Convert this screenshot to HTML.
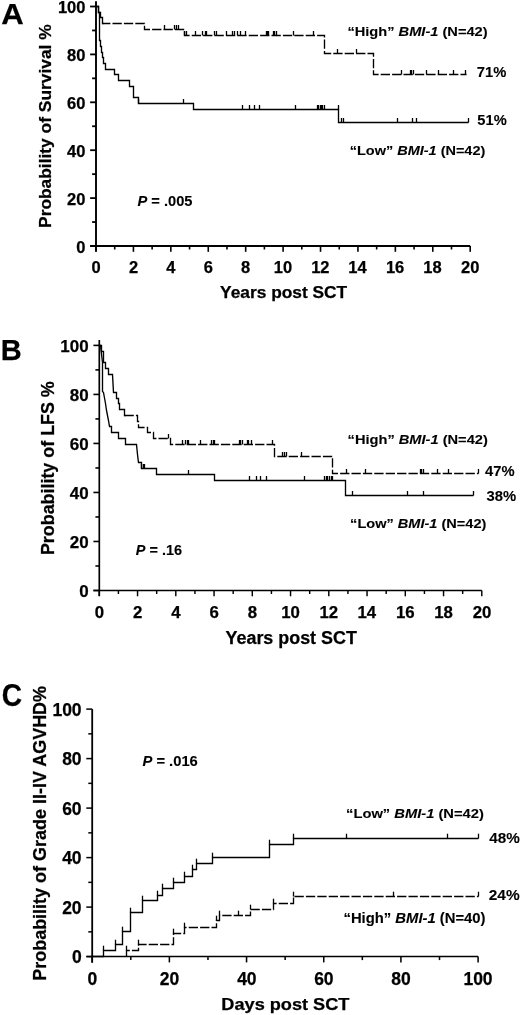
<!DOCTYPE html>
<html><head><meta charset="utf-8"><style>
html,body{margin:0;padding:0;background:#fff;}
svg{display:block;filter:blur(0.35px);}
text{font-family:"Liberation Sans",sans-serif;font-weight:bold;fill:#000;stroke:#000;stroke-width:0.25px;}
.ann{stroke-width:0.1px;}
line,path{stroke:#000;stroke-linecap:butt;}
</style></head><body>
<svg width="520" height="1015" viewBox="0 0 520 1015">
<rect width="520" height="1015" fill="#fff"/>
<line x1="96.00" y1="1.30" x2="96.00" y2="251.60" stroke-width="1.90"/>
<line x1="90.20" y1="246.00" x2="470.20" y2="246.00" stroke-width="1.80"/>
<line x1="90.10" y1="246.00" x2="96.00" y2="246.00" stroke-width="1.80"/>
<line x1="92.10" y1="222.05" x2="96.00" y2="222.05" stroke-width="1.80"/>
<line x1="90.10" y1="198.10" x2="96.00" y2="198.10" stroke-width="1.80"/>
<line x1="92.10" y1="174.15" x2="96.00" y2="174.15" stroke-width="1.80"/>
<line x1="90.10" y1="150.20" x2="96.00" y2="150.20" stroke-width="1.80"/>
<line x1="92.10" y1="126.25" x2="96.00" y2="126.25" stroke-width="1.80"/>
<line x1="90.10" y1="102.30" x2="96.00" y2="102.30" stroke-width="1.80"/>
<line x1="92.10" y1="78.35" x2="96.00" y2="78.35" stroke-width="1.80"/>
<line x1="90.10" y1="54.40" x2="96.00" y2="54.40" stroke-width="1.80"/>
<line x1="92.10" y1="30.45" x2="96.00" y2="30.45" stroke-width="1.80"/>
<line x1="90.10" y1="6.50" x2="96.00" y2="6.50" stroke-width="1.80"/>
<line x1="96.00" y1="246.00" x2="96.00" y2="251.80" stroke-width="1.61"/>
<line x1="114.71" y1="246.00" x2="114.71" y2="249.50" stroke-width="1.61"/>
<line x1="133.42" y1="246.00" x2="133.42" y2="251.80" stroke-width="1.61"/>
<line x1="152.13" y1="246.00" x2="152.13" y2="249.50" stroke-width="1.61"/>
<line x1="170.84" y1="246.00" x2="170.84" y2="251.80" stroke-width="1.61"/>
<line x1="189.55" y1="246.00" x2="189.55" y2="249.50" stroke-width="1.61"/>
<line x1="208.26" y1="246.00" x2="208.26" y2="251.80" stroke-width="1.61"/>
<line x1="226.97" y1="246.00" x2="226.97" y2="249.50" stroke-width="1.61"/>
<line x1="245.68" y1="246.00" x2="245.68" y2="251.80" stroke-width="1.61"/>
<line x1="264.39" y1="246.00" x2="264.39" y2="249.50" stroke-width="1.61"/>
<line x1="283.10" y1="246.00" x2="283.10" y2="251.80" stroke-width="1.61"/>
<line x1="301.81" y1="246.00" x2="301.81" y2="249.50" stroke-width="1.61"/>
<line x1="320.52" y1="246.00" x2="320.52" y2="251.80" stroke-width="1.61"/>
<line x1="339.23" y1="246.00" x2="339.23" y2="249.50" stroke-width="1.61"/>
<line x1="357.94" y1="246.00" x2="357.94" y2="251.80" stroke-width="1.61"/>
<line x1="376.65" y1="246.00" x2="376.65" y2="249.50" stroke-width="1.61"/>
<line x1="395.36" y1="246.00" x2="395.36" y2="251.80" stroke-width="1.61"/>
<line x1="414.07" y1="246.00" x2="414.07" y2="249.50" stroke-width="1.61"/>
<line x1="432.78" y1="246.00" x2="432.78" y2="251.80" stroke-width="1.61"/>
<line x1="451.49" y1="246.00" x2="451.49" y2="249.50" stroke-width="1.61"/>
<line x1="470.20" y1="246.00" x2="470.20" y2="251.80" stroke-width="1.61"/>
<text x="76.30" y="252.50" font-size="16.50" textLength="9.18" lengthAdjust="spacingAndGlyphs">0</text>
<text x="67.12" y="204.60" font-size="16.50" textLength="18.35" lengthAdjust="spacingAndGlyphs">20</text>
<text x="67.12" y="156.70" font-size="16.50" textLength="18.35" lengthAdjust="spacingAndGlyphs">40</text>
<text x="67.12" y="108.80" font-size="16.50" textLength="18.35" lengthAdjust="spacingAndGlyphs">60</text>
<text x="67.12" y="60.90" font-size="16.50" textLength="18.35" lengthAdjust="spacingAndGlyphs">80</text>
<text x="57.95" y="13.00" font-size="16.50" textLength="27.53" lengthAdjust="spacingAndGlyphs">100</text>
<text x="91.42" y="273.00" font-size="16.50" textLength="9.18" lengthAdjust="spacingAndGlyphs">0</text>
<text x="128.88" y="273.00" font-size="16.50" textLength="9.18" lengthAdjust="spacingAndGlyphs">2</text>
<text x="166.17" y="273.00" font-size="16.50" textLength="9.18" lengthAdjust="spacingAndGlyphs">4</text>
<text x="203.67" y="273.00" font-size="16.50" textLength="9.18" lengthAdjust="spacingAndGlyphs">6</text>
<text x="241.08" y="273.00" font-size="16.50" textLength="9.18" lengthAdjust="spacingAndGlyphs">8</text>
<text x="273.74" y="273.00" font-size="16.50" textLength="18.35" lengthAdjust="spacingAndGlyphs">10</text>
<text x="311.15" y="273.00" font-size="16.50" textLength="18.35" lengthAdjust="spacingAndGlyphs">12</text>
<text x="348.29" y="273.00" font-size="16.50" textLength="18.35" lengthAdjust="spacingAndGlyphs">14</text>
<text x="385.96" y="273.00" font-size="16.50" textLength="18.35" lengthAdjust="spacingAndGlyphs">16</text>
<text x="423.34" y="273.00" font-size="16.50" textLength="18.35" lengthAdjust="spacingAndGlyphs">18</text>
<text x="461.08" y="273.00" font-size="16.50" textLength="18.35" lengthAdjust="spacingAndGlyphs">20</text>
<text x="1.22" y="23.80" font-size="30.40" textLength="22.50" lengthAdjust="spacingAndGlyphs">A</text>
<text x="220.11" y="297.70" font-size="16.50" textLength="127.08" lengthAdjust="spacingAndGlyphs">Years post SCT</text>
<text transform="translate(51.30 226.80) rotate(-90)" x="-1.16" y="0" font-size="17.00" textLength="203.62" lengthAdjust="spacingAndGlyphs">Probability of Survival %</text>
<text x="347.42" y="35.90" font-size="13.60" textLength="140.21" lengthAdjust="spacingAndGlyphs" class="ann">“High” <tspan font-style="italic">BMI-1</tspan> (N=42)</text>
<text x="349.73" y="154.80" font-size="13.60" textLength="135.59" lengthAdjust="spacingAndGlyphs" class="ann">“Low” <tspan font-style="italic">BMI-1</tspan> (N=42)</text>
<text x="476.77" y="76.90" font-size="14.50" textLength="29.52" lengthAdjust="spacingAndGlyphs" class="ann">71%</text>
<text x="477.35" y="124.80" font-size="14.50" textLength="29.34" lengthAdjust="spacingAndGlyphs" class="ann">51%</text>
<text x="137.44" y="206.30" font-size="14.50" textLength="55.07" lengthAdjust="spacingAndGlyphs" class="ann"><tspan font-style="italic">P</tspan> = .005</text>
<path d="M95.50 6.50H98.50V12.50H100.50V17.50H102.50V23.50H103.50" fill="none" stroke-width="1.35"/>
<path d="M102.50 23.50H144.50V29.50H184.50V35.50H324.50V53.50H373.50V74.50H466.50" fill="none" stroke-width="1.35" stroke-dasharray="9.3 2.1" stroke-dashoffset="1.40"/>
<path d="M95.50 6.50H98.50V12.50H99.50V17.50H99.50V23.50H99.50V29.50H99.50V34.50H99.50V40.50H100.50V46.50H101.50V52.50H102.50V57.50H103.50V63.50H105.50V69.50H114.50V74.50H118.50V80.50H129.50V86.50H133.50V97.50H138.50V103.50H193.50V109.50H338.50V122.50H468.50" fill="none" stroke-width="1.35"/>
<path d="M164.50 29.50V25.00 M174.50 29.50V25.00 M176.50 29.50V25.00 M178.50 29.50V25.00" fill="none" stroke-width="1.30"/>
<path d="M184.50 35.50V31.00 M186.50 35.50V31.00 M195.50 35.50V31.00 M202.50 35.50V31.00 M205.50 35.50V31.00 M206.50 35.50V31.00 M214.50 35.50V31.00 M216.50 35.50V31.00 M226.50 35.50V31.00 M232.50 35.50V31.00 M234.50 35.50V31.00 M237.50 35.50V31.00 M240.50 35.50V31.00 M245.50 35.50V31.00 M266.50 35.50V31.00 M267.50 35.50V31.00 M268.50 35.50V31.00 M273.50 35.50V31.00 M274.50 35.50V31.00 M276.50 35.50V31.00 M293.50 35.50V31.00 M313.50 35.50V31.00" fill="none" stroke-width="1.30"/>
<path d="M337.50 53.50V49.00 M356.50 53.50V49.00" fill="none" stroke-width="1.30"/>
<path d="M401.50 74.50V70.00 M410.50 74.50V70.00 M411.50 74.50V70.00 M413.50 74.50V70.00 M426.50 74.50V70.00 M438.50 74.50V70.00 M453.50 74.50V70.00 M465.50 74.50V70.00" fill="none" stroke-width="1.30"/>
<path d="M138.50 103.50V99.00 M183.50 103.50V99.00" fill="none" stroke-width="1.30"/>
<path d="M242.50 109.50V105.00 M249.50 109.50V105.00 M254.50 109.50V105.00 M259.50 109.50V105.00 M295.50 109.50V105.00 M317.50 109.50V105.00 M318.50 109.50V105.00 M320.50 109.50V105.00 M321.50 109.50V105.00 M322.50 109.50V105.00 M324.50 109.50V105.00 M338.50 109.50V105.00" fill="none" stroke-width="1.30"/>
<path d="M341.50 122.50V118.00 M343.50 122.50V118.00 M397.50 122.50V118.00 M412.50 122.50V118.00 M416.50 122.50V118.00 M468.50 122.50V118.00" fill="none" stroke-width="1.30"/>
<line x1="99.30" y1="340.00" x2="99.30" y2="596.10" stroke-width="1.70"/>
<line x1="93.50" y1="590.50" x2="481.80" y2="590.50" stroke-width="1.60"/>
<line x1="93.40" y1="590.50" x2="99.30" y2="590.50" stroke-width="1.60"/>
<line x1="95.40" y1="565.99" x2="99.30" y2="565.99" stroke-width="1.60"/>
<line x1="93.40" y1="541.48" x2="99.30" y2="541.48" stroke-width="1.60"/>
<line x1="95.40" y1="516.97" x2="99.30" y2="516.97" stroke-width="1.60"/>
<line x1="93.40" y1="492.46" x2="99.30" y2="492.46" stroke-width="1.60"/>
<line x1="95.40" y1="467.95" x2="99.30" y2="467.95" stroke-width="1.60"/>
<line x1="93.40" y1="443.44" x2="99.30" y2="443.44" stroke-width="1.60"/>
<line x1="95.40" y1="418.93" x2="99.30" y2="418.93" stroke-width="1.60"/>
<line x1="93.40" y1="394.42" x2="99.30" y2="394.42" stroke-width="1.60"/>
<line x1="95.40" y1="369.91" x2="99.30" y2="369.91" stroke-width="1.60"/>
<line x1="93.40" y1="345.40" x2="99.30" y2="345.40" stroke-width="1.60"/>
<line x1="99.30" y1="590.50" x2="99.30" y2="596.30" stroke-width="1.44"/>
<line x1="118.42" y1="590.50" x2="118.42" y2="594.00" stroke-width="1.44"/>
<line x1="137.55" y1="590.50" x2="137.55" y2="596.30" stroke-width="1.44"/>
<line x1="156.68" y1="590.50" x2="156.68" y2="594.00" stroke-width="1.44"/>
<line x1="175.80" y1="590.50" x2="175.80" y2="596.30" stroke-width="1.44"/>
<line x1="194.93" y1="590.50" x2="194.93" y2="594.00" stroke-width="1.44"/>
<line x1="214.05" y1="590.50" x2="214.05" y2="596.30" stroke-width="1.44"/>
<line x1="233.18" y1="590.50" x2="233.18" y2="594.00" stroke-width="1.44"/>
<line x1="252.30" y1="590.50" x2="252.30" y2="596.30" stroke-width="1.44"/>
<line x1="271.43" y1="590.50" x2="271.43" y2="594.00" stroke-width="1.44"/>
<line x1="290.55" y1="590.50" x2="290.55" y2="596.30" stroke-width="1.44"/>
<line x1="309.68" y1="590.50" x2="309.68" y2="594.00" stroke-width="1.44"/>
<line x1="328.80" y1="590.50" x2="328.80" y2="596.30" stroke-width="1.44"/>
<line x1="347.93" y1="590.50" x2="347.93" y2="594.00" stroke-width="1.44"/>
<line x1="367.05" y1="590.50" x2="367.05" y2="596.30" stroke-width="1.44"/>
<line x1="386.18" y1="590.50" x2="386.18" y2="594.00" stroke-width="1.44"/>
<line x1="405.30" y1="590.50" x2="405.30" y2="596.30" stroke-width="1.44"/>
<line x1="424.43" y1="590.50" x2="424.43" y2="594.00" stroke-width="1.44"/>
<line x1="443.55" y1="590.50" x2="443.55" y2="596.30" stroke-width="1.44"/>
<line x1="462.68" y1="590.50" x2="462.68" y2="594.00" stroke-width="1.44"/>
<line x1="481.80" y1="590.50" x2="481.80" y2="596.30" stroke-width="1.44"/>
<text x="79.24" y="597.20" font-size="17.00" textLength="9.45" lengthAdjust="spacingAndGlyphs">0</text>
<text x="69.79" y="548.18" font-size="17.00" textLength="18.91" lengthAdjust="spacingAndGlyphs">20</text>
<text x="69.79" y="499.16" font-size="17.00" textLength="18.91" lengthAdjust="spacingAndGlyphs">40</text>
<text x="69.79" y="450.14" font-size="17.00" textLength="18.91" lengthAdjust="spacingAndGlyphs">60</text>
<text x="69.79" y="401.12" font-size="17.00" textLength="18.91" lengthAdjust="spacingAndGlyphs">80</text>
<text x="60.33" y="352.10" font-size="17.00" textLength="28.36" lengthAdjust="spacingAndGlyphs">100</text>
<text x="94.84" y="618.30" font-size="16.80" textLength="9.34" lengthAdjust="spacingAndGlyphs">0</text>
<text x="133.12" y="618.30" font-size="16.80" textLength="9.34" lengthAdjust="spacingAndGlyphs">2</text>
<text x="171.25" y="618.30" font-size="16.80" textLength="9.34" lengthAdjust="spacingAndGlyphs">4</text>
<text x="209.57" y="618.30" font-size="16.80" textLength="9.34" lengthAdjust="spacingAndGlyphs">6</text>
<text x="247.82" y="618.30" font-size="16.80" textLength="9.34" lengthAdjust="spacingAndGlyphs">8</text>
<text x="281.22" y="618.30" font-size="16.80" textLength="18.69" lengthAdjust="spacingAndGlyphs">10</text>
<text x="319.46" y="618.30" font-size="16.80" textLength="18.69" lengthAdjust="spacingAndGlyphs">12</text>
<text x="357.42" y="618.30" font-size="16.80" textLength="18.69" lengthAdjust="spacingAndGlyphs">14</text>
<text x="395.93" y="618.30" font-size="16.80" textLength="18.69" lengthAdjust="spacingAndGlyphs">16</text>
<text x="434.14" y="618.30" font-size="16.80" textLength="18.69" lengthAdjust="spacingAndGlyphs">18</text>
<text x="472.71" y="618.30" font-size="16.80" textLength="18.69" lengthAdjust="spacingAndGlyphs">20</text>
<text x="0.76" y="360.40" font-size="30.30" textLength="20.96" lengthAdjust="spacingAndGlyphs">B</text>
<text x="225.50" y="644.20" font-size="17.60" textLength="131.39" lengthAdjust="spacingAndGlyphs">Years post SCT</text>
<text transform="translate(53.90 553.90) rotate(-90)" x="-1.20" y="0" font-size="17.80" textLength="173.87" lengthAdjust="spacingAndGlyphs">Probability of LFS %</text>
<text x="347.62" y="444.10" font-size="13.60" textLength="140.21" lengthAdjust="spacingAndGlyphs" class="ann">“High” <tspan font-style="italic">BMI-1</tspan> (N=42)</text>
<text x="350.13" y="528.40" font-size="13.60" textLength="136.20" lengthAdjust="spacingAndGlyphs" class="ann">“Low” <tspan font-style="italic">BMI-1</tspan> (N=42)</text>
<text x="485.08" y="476.20" font-size="14.50" textLength="29.51" lengthAdjust="spacingAndGlyphs" class="ann">47%</text>
<text x="486.46" y="501.40" font-size="14.50" textLength="29.63" lengthAdjust="spacingAndGlyphs" class="ann">38%</text>
<text x="135.75" y="554.80" font-size="14.50" textLength="46.28" lengthAdjust="spacingAndGlyphs" class="ann"><tspan font-style="italic">P</tspan> = .16</text>
<path d="M99.50 345.50H101.50V351.50H103.50V362.50H105.50V368.50H108.50V374.50H112.50L113.50 392.50H116.50V398.50H118.50V403.50H119.50V409.50H124.50V415.50H125.50" fill="none" stroke-width="1.35"/>
<path d="M124.50 415.50H137.50V421.50H138.50V427.50H147.50V432.50H153.50V438.50H170.50V444.50H274.50V456.50H332.50V473.50H478.50" fill="none" stroke-width="1.35" stroke-dasharray="9.3 2.1" stroke-dashoffset="0.00"/>
<path d="M99.50 345.50H100.50L102.50 362.50L102.50 391.50L103.50 392.50L105.50 403.50L106.50 410.50L107.50 415.50L108.50 420.50L109.50 426.50H111.50V432.50H118.50V438.50H125.50V444.50H136.50L137.50 454.50L138.50 462.50H141.50V468.50H156.50V474.50H214.50V480.50H345.50V495.50H473.50" fill="none" stroke-width="1.35"/>
<path d="M168.50 438.50V434.00" fill="none" stroke-width="1.30"/>
<path d="M182.50 444.50V440.00 M185.50 444.50V440.00 M187.50 444.50V440.00 M188.50 444.50V440.00 M200.50 444.50V440.00 M211.50 444.50V440.00 M213.50 444.50V440.00 M214.50 444.50V440.00 M239.50 444.50V440.00 M240.50 444.50V440.00 M242.50 444.50V440.00 M247.50 444.50V440.00 M248.50 444.50V440.00 M251.50 444.50V440.00 M272.50 444.50V440.00" fill="none" stroke-width="1.30"/>
<path d="M282.50 456.50V452.00 M284.50 456.50V452.00 M286.50 456.50V452.00 M301.50 456.50V452.00" fill="none" stroke-width="1.30"/>
<path d="M346.50 473.50V469.00 M365.50 473.50V469.00 M420.50 473.50V469.00 M421.50 473.50V469.00 M423.50 473.50V469.00 M437.50 473.50V469.00 M448.50 473.50V469.00 M478.50 473.50V469.00" fill="none" stroke-width="1.30"/>
<path d="M141.50 468.50V464.00 M143.50 468.50V464.00 M144.50 468.50V464.00" fill="none" stroke-width="1.30"/>
<path d="M188.50 474.50V470.00" fill="none" stroke-width="1.30"/>
<path d="M249.50 480.50V476.00 M256.50 480.50V476.00 M260.50 480.50V476.00 M266.50 480.50V476.00 M304.50 480.50V476.00 M324.50 480.50V476.00 M326.50 480.50V476.00 M327.50 480.50V476.00 M329.50 480.50V476.00 M331.50 480.50V476.00 M332.50 480.50V476.00" fill="none" stroke-width="1.30"/>
<path d="M352.50 495.50V491.00 M407.50 495.50V491.00 M423.50 495.50V491.00 M473.50 495.50V491.00" fill="none" stroke-width="1.30"/>
<line x1="92.20" y1="709.10" x2="92.20" y2="962.70" stroke-width="1.80"/>
<line x1="86.40" y1="956.60" x2="478.10" y2="956.60" stroke-width="1.50"/>
<line x1="86.30" y1="956.60" x2="92.20" y2="956.60" stroke-width="1.50"/>
<line x1="88.30" y1="931.85" x2="92.20" y2="931.85" stroke-width="1.50"/>
<line x1="86.30" y1="907.10" x2="92.20" y2="907.10" stroke-width="1.50"/>
<line x1="88.30" y1="882.35" x2="92.20" y2="882.35" stroke-width="1.50"/>
<line x1="86.30" y1="857.60" x2="92.20" y2="857.60" stroke-width="1.50"/>
<line x1="88.30" y1="832.85" x2="92.20" y2="832.85" stroke-width="1.50"/>
<line x1="86.30" y1="808.10" x2="92.20" y2="808.10" stroke-width="1.50"/>
<line x1="88.30" y1="783.35" x2="92.20" y2="783.35" stroke-width="1.50"/>
<line x1="86.30" y1="758.60" x2="92.20" y2="758.60" stroke-width="1.50"/>
<line x1="88.30" y1="733.85" x2="92.20" y2="733.85" stroke-width="1.50"/>
<line x1="86.30" y1="709.10" x2="92.20" y2="709.10" stroke-width="1.50"/>
<line x1="92.20" y1="956.60" x2="92.20" y2="962.40" stroke-width="1.53"/>
<line x1="130.79" y1="956.60" x2="130.79" y2="960.10" stroke-width="1.53"/>
<line x1="169.38" y1="956.60" x2="169.38" y2="962.40" stroke-width="1.53"/>
<line x1="207.97" y1="956.60" x2="207.97" y2="960.10" stroke-width="1.53"/>
<line x1="246.56" y1="956.60" x2="246.56" y2="962.40" stroke-width="1.53"/>
<line x1="285.15" y1="956.60" x2="285.15" y2="960.10" stroke-width="1.53"/>
<line x1="323.74" y1="956.60" x2="323.74" y2="962.40" stroke-width="1.53"/>
<line x1="362.33" y1="956.60" x2="362.33" y2="960.10" stroke-width="1.53"/>
<line x1="400.92" y1="956.60" x2="400.92" y2="962.40" stroke-width="1.53"/>
<line x1="439.51" y1="956.60" x2="439.51" y2="960.10" stroke-width="1.53"/>
<line x1="478.10" y1="956.60" x2="478.10" y2="962.40" stroke-width="1.53"/>
<text x="71.89" y="963.20" font-size="17.50" textLength="9.73" lengthAdjust="spacingAndGlyphs">0</text>
<text x="62.15" y="913.70" font-size="17.50" textLength="19.47" lengthAdjust="spacingAndGlyphs">20</text>
<text x="62.15" y="864.20" font-size="17.50" textLength="19.47" lengthAdjust="spacingAndGlyphs">40</text>
<text x="62.15" y="814.70" font-size="17.50" textLength="19.47" lengthAdjust="spacingAndGlyphs">60</text>
<text x="62.15" y="765.20" font-size="17.50" textLength="19.47" lengthAdjust="spacingAndGlyphs">80</text>
<text x="52.42" y="715.70" font-size="17.50" textLength="29.20" lengthAdjust="spacingAndGlyphs">100</text>
<text x="87.45" y="984.80" font-size="17.50" textLength="9.73" lengthAdjust="spacingAndGlyphs">0</text>
<text x="159.80" y="984.80" font-size="17.50" textLength="19.47" lengthAdjust="spacingAndGlyphs">20</text>
<text x="237.15" y="984.80" font-size="17.50" textLength="19.47" lengthAdjust="spacingAndGlyphs">40</text>
<text x="314.15" y="984.80" font-size="17.50" textLength="19.47" lengthAdjust="spacingAndGlyphs">60</text>
<text x="391.37" y="984.80" font-size="17.50" textLength="19.47" lengthAdjust="spacingAndGlyphs">80</text>
<text x="463.41" y="984.80" font-size="17.50" textLength="29.20" lengthAdjust="spacingAndGlyphs">100</text>
<text x="1.75" y="705.60" font-size="30.50" textLength="20.32" lengthAdjust="spacingAndGlyphs">C</text>
<text x="221.39" y="1010.10" font-size="16.50" textLength="128.01" lengthAdjust="spacingAndGlyphs">Days post SCT</text>
<text transform="translate(46.20 979.60) rotate(-90)" x="-1.20" y="0" font-size="17.80" textLength="294.87" lengthAdjust="spacingAndGlyphs">Probability of Grade II-IV AGVHD%</text>
<text x="346.12" y="818.10" font-size="13.60" textLength="137.72" lengthAdjust="spacingAndGlyphs" class="ann">“Low” <tspan font-style="italic">BMI-1</tspan> (N=42)</text>
<text x="343.51" y="923.30" font-size="14.00" textLength="142.03" lengthAdjust="spacingAndGlyphs" class="ann">“High” <tspan font-style="italic">BMI-1</tspan> (N=40)</text>
<text x="489.37" y="842.70" font-size="14.50" textLength="30.53" lengthAdjust="spacingAndGlyphs" class="ann">48%</text>
<text x="488.77" y="900.10" font-size="14.50" textLength="30.84" lengthAdjust="spacingAndGlyphs" class="ann">24%</text>
<text x="142.44" y="766.00" font-size="14.50" textLength="55.39" lengthAdjust="spacingAndGlyphs" class="ann"><tspan font-style="italic">P</tspan> = .016</text>
<path d="M91.50 956.50H103.50V950.50H115.50V944.50H122.50V931.50H130.50V912.50H142.50V900.50H157.50V895.50H162.50V888.50H173.50V882.50H184.50V876.50H192.50V869.50H196.50V863.50H212.50V857.50H269.50V844.50H293.50V838.50H478.50" fill="none" stroke-width="1.35"/>
<path d="M126.50 956.50V950.50H138.50V944.50H173.50V933.50H184.50V927.50H216.50V920.50H219.50V915.50H250.50V909.50H273.50V903.50H293.50V896.50H478.50" fill="none" stroke-width="1.35" stroke-dasharray="9.3 2.1" stroke-dashoffset="0.00"/>
<path d="M103.50 950.50V945.70" fill="none" stroke-width="1.30"/>
<path d="M115.50 944.50V939.70" fill="none" stroke-width="1.30"/>
<path d="M122.50 931.50V926.70" fill="none" stroke-width="1.30"/>
<path d="M130.50 912.50V907.70" fill="none" stroke-width="1.30"/>
<path d="M142.50 900.50V895.70" fill="none" stroke-width="1.30"/>
<path d="M157.50 895.50V890.70" fill="none" stroke-width="1.30"/>
<path d="M162.50 888.50V883.70" fill="none" stroke-width="1.30"/>
<path d="M173.50 882.50V877.70" fill="none" stroke-width="1.30"/>
<path d="M184.50 876.50V871.70" fill="none" stroke-width="1.30"/>
<path d="M192.50 869.50V864.70" fill="none" stroke-width="1.30"/>
<path d="M196.50 863.50V858.70" fill="none" stroke-width="1.30"/>
<path d="M212.50 857.50V852.70" fill="none" stroke-width="1.30"/>
<path d="M269.50 844.50V839.70" fill="none" stroke-width="1.30"/>
<path d="M293.50 838.50V833.70" fill="none" stroke-width="1.30"/>
<path d="M346.50 838.50V833.70" fill="none" stroke-width="1.30"/>
<path d="M447.50 838.50V833.70" fill="none" stroke-width="1.30"/>
<path d="M478.50 838.50V833.70" fill="none" stroke-width="1.30"/>
<path d="M126.50 950.50V945.70" fill="none" stroke-width="1.30"/>
<path d="M138.50 944.50V939.70" fill="none" stroke-width="1.30"/>
<path d="M173.50 933.50V928.70" fill="none" stroke-width="1.30"/>
<path d="M184.50 927.50V922.70" fill="none" stroke-width="1.30"/>
<path d="M216.50 920.50V915.70" fill="none" stroke-width="1.30"/>
<path d="M219.50 915.50V910.70" fill="none" stroke-width="1.30"/>
<path d="M238.50 915.50V910.70" fill="none" stroke-width="1.30"/>
<path d="M250.50 909.50V904.70" fill="none" stroke-width="1.30"/>
<path d="M273.50 903.50V898.70" fill="none" stroke-width="1.30"/>
<path d="M293.50 896.50V891.70" fill="none" stroke-width="1.30"/>
<path d="M393.50 896.50V891.70" fill="none" stroke-width="1.30"/>
<path d="M478.50 896.50V891.70" fill="none" stroke-width="1.30"/>
</svg>
</body></html>
